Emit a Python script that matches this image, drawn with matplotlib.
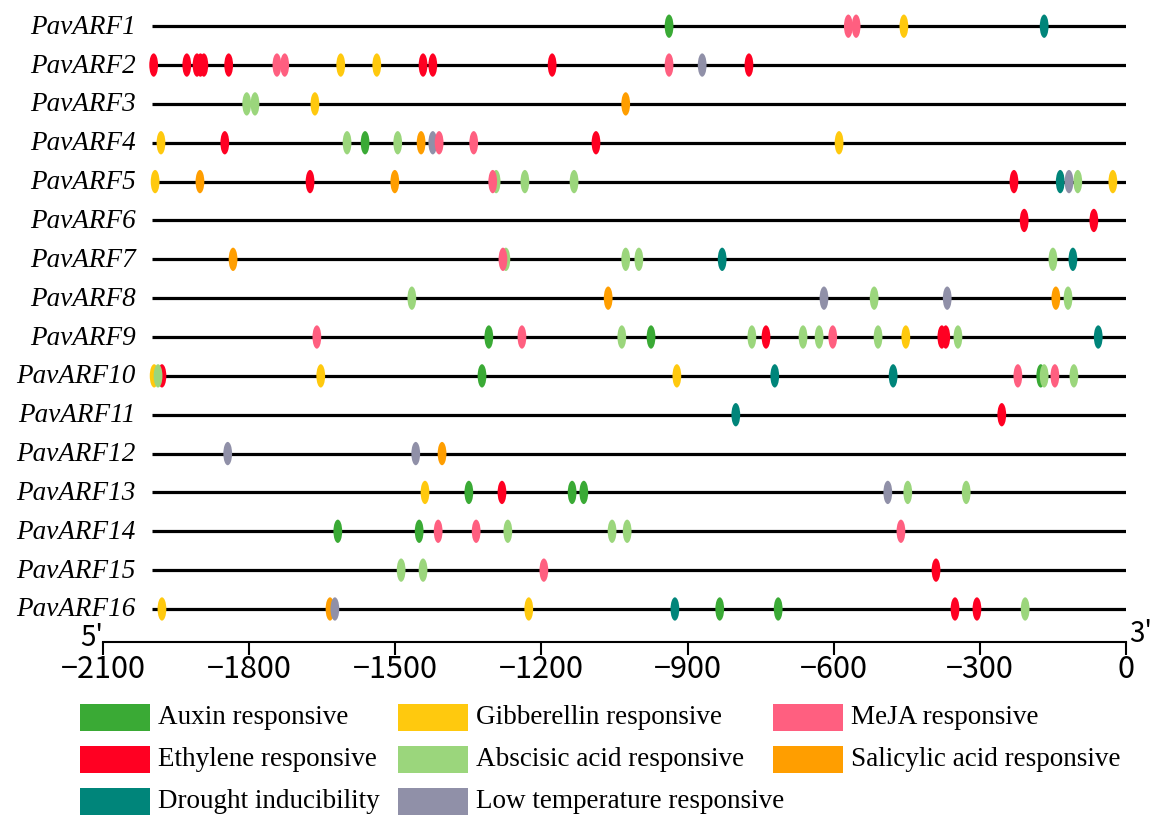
import matplotlib
matplotlib.use("Agg")
from matplotlib import pyplot as plt
from matplotlib.patches import Ellipse, Rectangle

W, H = 1153, 820

genes = ["PavARF%d" % i for i in range(1, 17)]

labels = ["Auxin responsive", "Ethylene responsive", "Drought inducibility",
          "Gibberellin responsive", "Abscisic acid responsive", "Low temperature responsive",
          "MeJA responsive", "Salicylic acid responsive"]
colors = ["#3aaa35", "#ff0022", "#00857a",
          "#ffc90e", "#9bd67c", "#9090a8",
          "#ff5f80", "#ff9e00"]

# (gene number, position) for each element type
auxin = [(1, -938), (4, -1562), (9, -1308), (9, -975), (10, -1322), (10, -175),
         (13, -1349), (13, -1137), (13, -1113), (14, -1618), (14, -1451),
         (16, -834), (16, -714)]
ethylene = [(2, -1996), (2, -1928), (2, -1907), (2, -1900), (2, -1893), (2, -1842),
            (2, -1443), (2, -1423), (2, -1178), (2, -774), (4, -1850), (4, -1088),
            (5, -1675), (5, -230), (6, -209), (6, -66), (9, -739), (9, -378), (9, -370),
            (10, -1979), (11, -255), (13, -1281), (15, -390), (16, -351), (16, -306)]
drought = [(1, -168), (5, -135), (7, -829), (7, -109), (9, -57), (10, -721),
           (10, -478), (11, -801), (16, -926)]
gibberellin = [(1, -456), (2, -1612), (2, -1538), (3, -1665), (4, -1981), (4, -589),
               (5, -1993), (5, -27), (9, -452), (10, -1995), (10, -1653), (10, -922),
               (13, -1439), (16, -1979), (16, -1226)]
abscisic = [(3, -1805), (3, -1788), (4, -1599), (4, -1495), (5, -1293), (5, -1234),
            (5, -1133), (5, -99), (7, -1273), (7, -1027), (7, -1000), (7, -150),
            (8, -1466), (8, -517), (8, -119), (9, -1035), (9, -768), (9, -663),
            (9, -630), (9, -509), (9, -345), (10, -1987), (10, -168), (10, -107),
            (13, -448), (13, -328), (14, -1269), (14, -1055), (14, -1024),
            (15, -1488), (15, -1443), (16, -207)]
low_temp = [(2, -870), (4, -1423), (5, -117), (8, -620), (8, -367), (12, -1844),
            (12, -1458), (13, -489), (16, -1624)]
meja = [(1, -570), (1, -554), (2, -1743), (2, -1727), (2, -938), (4, -1410),
        (4, -1339), (5, -1300), (7, -1279), (9, -1661), (9, -1240), (9, -602),
        (10, -222), (10, -146), (14, -1412), (14, -1334), (14, -462), (15, -1195)]
salicylic = [(3, -1027), (4, -1447), (5, -1901), (5, -1501), (7, -1833), (8, -1063),
             (8, -144), (12, -1404), (16, -1634)]

sites = [auxin, ethylene, drought, gibberellin, abscisic, low_temp, meja, salicylic]
draw_order = [1, 2, 0, 3, 7, 4, 5, 6]

axis_font = ["Noto Sans CJK SC", "DejaVu Sans"]

fig = plt.figure(figsize=(W / 100, H / 100), dpi=100)
ax = fig.add_axes([103 / W, 1 - 643 / H, 1023 / W, 643 / H])
ax.set_xlim(-2100, 0)
ax.set_ylim(16.85, 0.3)

rows = list(range(1, len(genes) + 1))
ax.hlines(rows, -2000, 0, color="black", lw=2.3, zorder=1)

for k in draw_order:
    for g, pos in sites[k]:
        ax.add_patch(Ellipse((pos, g), width=18, height=0.6, facecolor=colors[k],
                             edgecolor="none", zorder=2))

for r, name in zip(rows, genes):
    ax.text(-2033, r, name, ha="right", va="center", fontsize=19.5,
            family="Liberation Serif", style="italic")

for s in ["top", "left", "right"]:
    ax.spines[s].set_visible(False)
ax.spines["bottom"].set_linewidth(1.5)
ax.set_yticks([])
ticks = list(range(-2100, 1, 300))
ax.set_xticks(ticks)
ax.set_xticklabels(["\u2212%d" % -t if t else "0" for t in ticks], family=axis_font,
                   fontsize=22)
ax.tick_params(axis="x", direction="out", length=9, width=1.5, pad=-1)

fig.text(92 / W, 1 - 638 / H, "5'", ha="center", va="center", fontsize=20, family=axis_font)
fig.text(1141 / W, 1 - 634 / H, "3'", ha="center", va="center", fontsize=20, family=axis_font)

# legend, drawn by hand: 3 fixed columns
col_x = [80, 398, 773]
row_y = [718, 760, 802]
pw, ph = 70, 27
for i, (lab, c) in enumerate(zip(labels, colors)):
    x = col_x[i // 3]
    y = row_y[i % 3]
    fig.add_artist(Rectangle((x / W, 1 - (y + ph / 2) / H), pw / W, ph / H,
                             transform=fig.transFigure, facecolor=c, edgecolor="none"))
    fig.text((x + 78) / W, 1 - y / H, lab, ha="left", va="center", fontsize=19.5,
             family="Liberation Serif")

fig.savefig("out.png", dpi=100)
